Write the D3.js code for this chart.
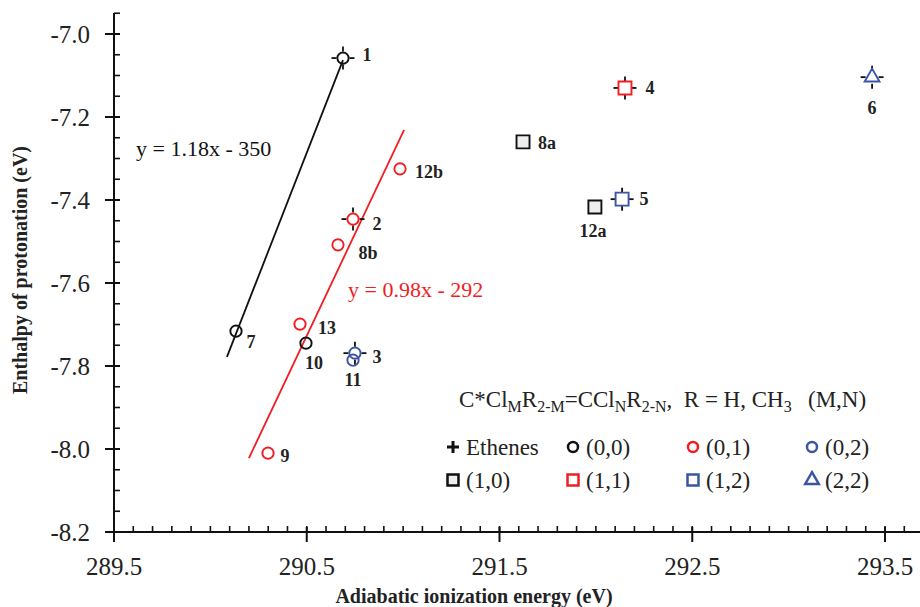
<!DOCTYPE html>
<html>
<head>
<meta charset="utf-8">
<script src="https://cdn.jsdelivr.net/npm/d3@7"></script>
<style>
  body { margin: 0; background: #fff; }
  svg { display: block; }
  text { font-family: "Liberation Serif", "DejaVu Serif", serif; }
</style>
</head>
<body>
<div id="chart"></div>
<script>
// compounds, adiabatic IE (eV) and enthalpy of protonation (eV)
const names = ["1", "2", "3", "4", "5", "6", "7", "8a", "8b", "9", "10", "11", "12a", "12b", "13"];
const ionization = [290.688, 290.740, 290.750, 292.151, 292.136, 293.433, 290.133, 291.622, 290.662, 290.299, 290.496, 290.740, 291.995, 290.984, 290.465];
const enthalpy = [-7.058, -7.446, -7.769, -7.130, -7.398, -7.104, -7.716, -7.260, -7.508, -8.010, -7.745, -7.786, -7.417, -7.325, -7.699];
const groups = ["(0,0)", "(0,1)", "(0,2)", "(1,1)", "(1,2)", "(2,2)", "(0,0)", "(1,0)", "(0,1)", "(0,1)", "(0,0)", "(0,2)", "(1,0)", "(0,1)", "(0,1)"];
const ethenes = ["1", "2", "3", "4", "5", "6"];

// linear fits (end points)
const blackFitX = [290.086, 290.688];
const blackFitY = [-7.778, -7.063];
const redFitX = [290.200, 291.005];
const redFitY = [-8.022, -7.231];

const xTicks = [289.5, 290.5, 291.5, 292.5, 293.5];
const yTicks = [-7.0, -7.2, -7.4, -7.6, -7.8, -8.0, -8.2];
const legendGroups = ["Ethenes", "(0,0)", "(0,1)", "(0,2)", "(1,0)", "(1,1)", "(1,2)", "(2,2)"];

const RED = "#f01e23", BLUE = "#3b55a3", BLACK = "#111";
const style = {
  "(0,0)": { shape: d3.symbolCircle, color: BLACK, fill: "none" },
  "(0,1)": { shape: d3.symbolCircle, color: RED, fill: "none" },
  "(0,2)": { shape: d3.symbolCircle, color: BLUE, fill: "none" },
  "(1,0)": { shape: d3.symbolSquare, color: BLACK, fill: "#eeeeee" },
  "(1,1)": { shape: d3.symbolSquare, color: RED, fill: "none" },
  "(1,2)": { shape: d3.symbolSquare, color: BLUE, fill: "none" },
  "(2,2)": { shape: d3.symbolTriangle, color: BLUE, fill: "none" }
};
const symSize = { circle: 100, square: 169, triangle: 95 };
function sizeOf(shape) {
  if (shape === d3.symbolSquare) return symSize.square;
  if (shape === d3.symbolTriangle) return symSize.triangle;
  return symSize.circle;
}

// label offsets (px) from the point
const labelOffset = {
  "1": [24, -3], "2": [24, 5], "3": [22, 4], "4": [25, 0], "5": [22, 0], "6": [0, 31],
  "7": [15, 11], "8a": [24, 1], "8b": [30, 8], "9": [17, 3], "10": [8, 20], "11": [0, 20],
  "12a": [-2, 24], "12b": [29, 3], "13": [27, 4]
};

const W = 920, H = 607;
const svg = d3.select("#chart").append("svg")
  .attr("width", W)
  .attr("height", H);

svg.append("rect").attr("width", W).attr("height", H).attr("fill", "#fff");

const x = d3.scaleLinear().domain([289.5, 293.7]).range([114, 114 + 4.2 * 192.75]);
const y = d3.scaleLinear().domain([-8.2, -6.95]).range([532, 13.25]);

// axes
const xAxis = svg.append("g").attr("transform", "translate(0,532)");
xAxis.append("line").attr("x1", 114).attr("x2", W).attr("stroke", BLACK).attr("stroke-width", 2);
const xMinor = d3.range(0, 43).map(i => 289.5 + i * 0.1).filter(v => v <= 293.7);
xAxis.selectAll(".xm").data(xMinor).join("line")
  .attr("x1", d => x(d)).attr("x2", d => x(d))
  .attr("y1", 0).attr("y2", -6)
  .attr("stroke", BLACK).attr("stroke-width", 1.6);
xAxis.selectAll(".xM").data(xTicks).join("line")
  .attr("x1", d => x(d)).attr("x2", d => x(d))
  .attr("y1", -5).attr("y2", 10)
  .attr("stroke", BLACK).attr("stroke-width", 2);
xAxis.selectAll(".xl").data(xTicks).join("text")
  .attr("x", d => x(d)).attr("y", 43)
  .attr("text-anchor", "middle")
  .attr("font-size", 25)
  .attr("fill", "#222")
  .text(d => d.toFixed(1));

const yAxis = svg.append("g").attr("transform", "translate(114,0)");
yAxis.append("line").attr("y1", 13).attr("y2", 533).attr("stroke", BLACK).attr("stroke-width", 2);
const yMinor = d3.range(0, 26).map(i => -8.2 + i * 0.05);
yAxis.selectAll(".ym").data(yMinor).join("line")
  .attr("y1", d => y(d)).attr("y2", d => y(d))
  .attr("x1", 0).attr("x2", 6)
  .attr("stroke", BLACK).attr("stroke-width", 1.6);
yAxis.selectAll(".yM").data(yTicks).join("line")
  .attr("y1", d => y(d)).attr("y2", d => y(d))
  .attr("x1", -9).attr("x2", 6)
  .attr("stroke", BLACK).attr("stroke-width", 2);
yAxis.selectAll(".yl").data(yTicks).join("text")
  .attr("x", -24).attr("y", d => y(d) + 8.5)
  .attr("text-anchor", "end")
  .attr("font-size", 25)
  .attr("fill", "#222")
  .text(d => d.toFixed(1));

// axis titles
svg.append("text")
  .attr("x", 474).attr("y", 603)
  .attr("text-anchor", "middle")
  .attr("font-size", 20).attr("font-weight", "bold")
  .attr("fill", "#222")
  .text("Adiabatic ionization energy (eV)");
svg.append("text")
  .attr("transform", "translate(27,270) rotate(-90)")
  .attr("text-anchor", "middle")
  .attr("font-size", 20).attr("font-weight", "bold")
  .attr("fill", "#222")
  .text("Enthalpy of protonation (eV)");

// fit lines
const line = d3.line().x(d => x(d[0])).y(d => y(d[1]));
svg.append("path").datum(d3.zip(blackFitX, blackFitY))
  .attr("d", line).attr("stroke", BLACK).attr("stroke-width", 1.8).attr("fill", "none");
svg.append("path").datum(d3.zip(redFitX, redFitY))
  .attr("d", line).attr("stroke", RED).attr("stroke-width", 1.8).attr("fill", "none");

svg.append("text").attr("x", 136).attr("y", 156)
  .attr("font-size", 22).attr("fill", BLACK)
  .text("y = 1.18x - 350");
svg.append("text").attr("x", 348).attr("y", 297)
  .attr("font-size", 22).attr("fill", RED)
  .text("y = 0.98x - 292");

// points
const pts = names.map((n, i) => ({ name: n, x: ionization[i], y: enthalpy[i], g: groups[i], eth: ethenes.includes(n) }));

// ethene crosses (stubs outside the marker)
const stubs = [];
pts.filter(d => d.eth).forEach(d => {
  const cx = x(d.x), cy = y(d.y);
  const r = 6.5, L = 11.5;
  stubs.push([cx - L, cy, cx - r, cy], [cx + r, cy, cx + L, cy], [cx, cy - L, cx, cy - r], [cx, cy + r, cx, cy + L]);
});
svg.append("g").selectAll("line").data(stubs).join("line")
  .attr("x1", d => d[0]).attr("y1", d => d[1])
  .attr("x2", d => d[2]).attr("y2", d => d[3])
  .attr("stroke", BLACK).attr("stroke-width", 1.8);

svg.append("g").selectAll("path").data(pts).join("path")
  .attr("transform", d => `translate(${x(d.x)},${y(d.y)})`)
  .attr("d", d => d3.symbol().type(style[d.g].shape).size(sizeOf(style[d.g].shape))())
  .attr("fill", d => style[d.g].fill)
  .attr("stroke", d => style[d.g].color)
  .attr("stroke-width", 1.9);

svg.append("g").selectAll("text").data(pts).join("text")
  .attr("x", d => x(d.x) + labelOffset[d.name][0])
  .attr("y", d => y(d.y) + labelOffset[d.name][1] + 6)
  .attr("text-anchor", "middle")
  .attr("font-size", 18).attr("font-weight", "bold")
  .attr("fill", "#222")
  .text(d => d.name);

// legend
const title = svg.append("text").attr("x", 459).attr("y", 407)
  .attr("font-size", 23).attr("fill", "#222")
  .style("white-space", "pre");
const parts = [["C*Cl", 0], ["M", 1], ["R", 0], ["2-M", 1], ["=CCl", 0], ["N", 1], ["R", 0], ["2-N", 1], [",  R = H, CH", 0], ["3", 1]];
parts.forEach(p => {
  title.append("tspan")
    .attr("font-size", p[1] ? 16 : 23)
    .attr("dy", 0)
    .attr("baseline-shift", p[1] ? "-5" : null)
    .text(p[0]);
});
svg.append("text").attr("x", 808).attr("y", 407)
  .attr("font-size", 23).attr("fill", "#222")
  .text("(M,N)");

const legCols = [453, 573, 693, 812];
const legRows = [447, 480];
legendGroups.forEach((g, i) => {
  const cx = legCols[i % 4], cy = legRows[Math.floor(i / 4)];
  const item = svg.append("g").attr("transform", `translate(${cx},${cy})`);
  if (g === "Ethenes") {
    item.append("path").attr("d", "M-6,0H6M0,-6V6").attr("stroke", BLACK).attr("stroke-width", 3);
  } else {
    const s = style[g];
    const sz = s.shape === d3.symbolCircle ? 78 : s.shape === d3.symbolSquare ? 121 : 80;
    item.append("path")
      .attr("d", d3.symbol().type(s.shape).size(sz)())
      .attr("fill", s.fill).attr("stroke", s.color).attr("stroke-width", 2.5);
  }
  item.append("text").attr("x", 13).attr("y", 8)
    .attr("font-size", 23).attr("fill", "#222")
    .text(g);
});
</script>
</body>
</html>
